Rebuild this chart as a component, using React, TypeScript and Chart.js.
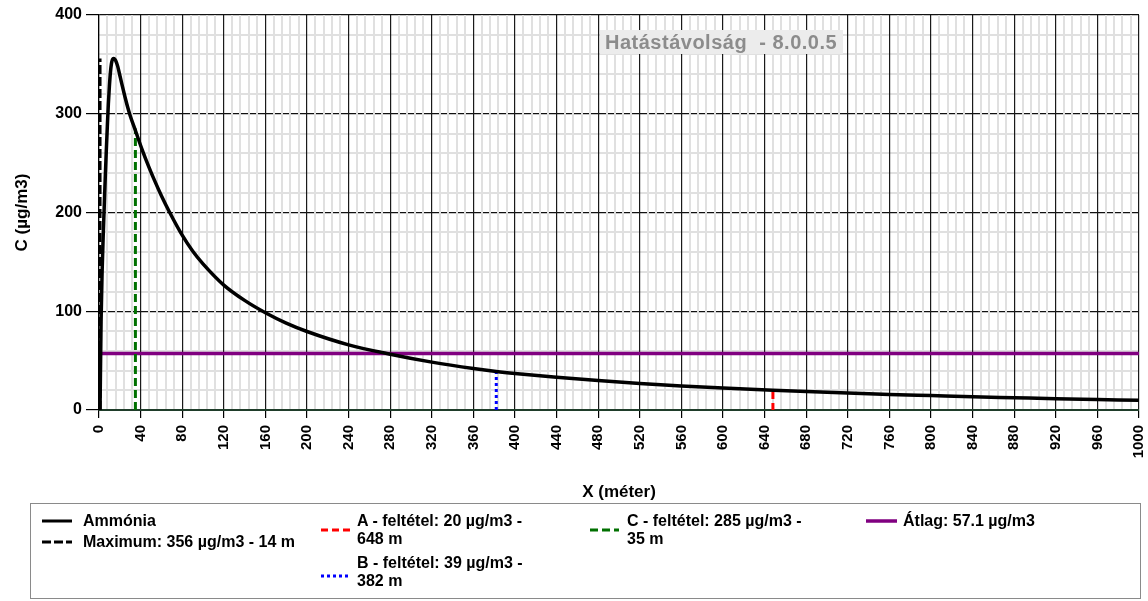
import React, { useEffect, useRef } from "react";
import { Chart, registerables } from "chart.js";

Chart.register(...registerables);

// ---- data ----
const distanceM = [1, 2, 3, 4, 5, 6, 7, 8, 9, 10, 11, 12, 13, 14, 15, 16, 18, 20, 22, 25, 28, 30, 35, 41, 48, 54, 60, 68, 80, 90, 100, 120, 140, 160, 180, 200, 240, 280, 320, 360, 382, 400, 440, 480, 520, 560, 600, 648, 700, 760, 800, 840, 880, 920, 960, 1000];
const ammoniaUgM3 = [0, 90, 140, 175, 205, 235, 262, 287, 310, 328, 342, 351, 355, 356, 355.5, 354, 348, 339, 330, 317, 305, 298, 283, 265, 246, 231, 217, 200, 177, 161, 148, 126.5, 111, 98.5, 88, 79.5, 66, 56.5, 48.5, 42, 39, 37, 33.2, 29.8, 26.8, 24.3, 22.2, 20, 17.9, 15.8, 14.6, 13.4, 12.4, 11.4, 10.6, 9.8];

const markerLabels = ["Maximum: 356 µg/m3 - 14 m", "A - feltétel: 20 µg/m3 - 648 m", "B - feltétel: 39 µg/m3 - 382 m", "C - feltétel: 285 µg/m3 - 35 m"];
const markerX = [1, 648, 382, 35];
const markerY = [356, 20, 39, 285];
const markerColors = ["#000000", "#ff0000", "#0000ff", "#007000"];
const markerDashes = [[9, 3], [7, 4], [3, 3], [8, 4]];

const averageLabel = "Átlag: 57.1 µg/m3";
const averageValue = 57.1;
const averageColor = "#800080";

const xRange = [0, 1000];
const yRange = [0, 400];
const xMinorStep = 8;
const xMajorStep = 40;
const yMinorStep = 20;
const yMajorStep = 100;

const FONT = "'Liberation Sans', Arial, sans-serif";

const titleBoxPlugin = {
  id: "titleBox",
  afterDraw(chart: any) {
    const ctx = chart.ctx;
    ctx.save();
    ctx.fillStyle = "#ececec";
    ctx.fillRect(600, 30, 243, 24);
    ctx.font = `bold 20px ${FONT}`;
    try { ctx.letterSpacing = "0.5px"; } catch (e) {}
    ctx.fillStyle = "#8c8c8c";
    ctx.textBaseline = "alphabetic";
    ctx.textAlign = "left";
    ctx.fillText("Hatástávolság  - 8.0.0.5", 605, 49);
    ctx.restore();
  },
};

function LegendSample({ x1, x2, y, color, dash, width }: any) {
  return (
    <svg style={{ position: "absolute", left: 0, top: 0, overflow: "visible" }} width={1} height={1}>
      <line x1={x1} x2={x2} y1={y} y2={y} stroke={color} strokeWidth={width} strokeDasharray={dash ? dash.join(",") : undefined} />
    </svg>
  );
}

export default function App() {
  const ref = useRef<HTMLCanvasElement | null>(null);

  useEffect(() => {
    if (!ref.current) return;
    const curve = distanceM.map((x, i) => ({ x, y: ammoniaUgM3[i] }));
    const markerSets = markerX.map((x, i) => ({
      label: markerLabels[i],
      data: [{ x, y: 0 }, { x, y: markerY[i] }],
      borderColor: markerColors[i],
      borderDash: markerDashes[i],
      borderWidth: 3,
      pointRadius: 0,
      borderCapStyle: "butt",
    }));
    const isMajorX = (v: number) => Math.abs(v % xMajorStep) < 1e-6;
    const isMajorY = (v: number) => Math.abs(v % yMajorStep) < 1e-6;

    const chart = new Chart(ref.current, {
      type: "line",
      data: {
        datasets: [
          {
            label: "Ammónia",
            data: curve,
            borderColor: "#000000",
            borderWidth: 3.5,
            pointRadius: 0,
            cubicInterpolationMode: "monotone",
          },
          ...markerSets,
          {
            label: averageLabel,
            data: [{ x: xRange[0], y: averageValue }, { x: xRange[1], y: averageValue }],
            borderColor: averageColor,
            borderWidth: 3.5,
            pointRadius: 0,
          },
        ] as any,
      },
      options: {
        responsive: false,
        animation: false,
        layout: { padding: { top: 15, right: 9, left: 0, bottom: 0 } },
        plugins: { legend: { display: false }, tooltip: { enabled: false } },
        scales: {
          x: {
            type: "linear",
            min: xRange[0],
            max: xRange[1],
            afterFit: (s: any) => { s.height = 100; s.paddingLeft = 0; s.paddingRight = 0; },
            ticks: {
              stepSize: xMinorStep,
              autoSkip: false,
              maxRotation: 90,
              minRotation: 90,
              padding: 7,
              color: "#000",
              font: { family: FONT, size: 15, weight: "bold" },
              callback: (v: any) => (isMajorX(Number(v)) ? String(v) : ""),
            },
            grid: {
              z: -1,
              color: (c: any) => (c.tick && isMajorX(c.tick.value) ? "#1a1a1a" : "#e0e0e0"),
              lineWidth: (c: any) => (c.tick && isMajorX(c.tick.value) ? 1.2 : 2),
              tickLength: 8,
              tickColor: (c: any) => (c.tick && isMajorX(c.tick.value) ? "#000" : "rgba(0,0,0,0)"),
              tickWidth: 1.2,
            },
            border: { display: true, color: "#1f3d2a", width: 2 },
            title: {
              display: true,
              text: "X (méter)",
              color: "#000",
              font: { family: FONT, size: 17, weight: "bold" },
              padding: { top: 0, bottom: 7 },
            },
          },
          y: {
            type: "linear",
            min: yRange[0],
            max: yRange[1],
            afterFit: (s: any) => { s.width = 99; },
            ticks: {
              stepSize: yMinorStep,
              autoSkip: false,
              padding: 4,
              color: "#000",
              font: { family: FONT, size: 16, weight: "bold" },
              callback: (v: any) => (isMajorY(Number(v)) ? String(v) : ""),
            },
            grid: {
              z: -2,
              color: (c: any) => (c.tick && c.tick.value === 0 ? "#1f3d2a" : c.tick && isMajorY(c.tick.value) ? "#111" : "#e0e0e0"),
              lineWidth: (c: any) => (c.tick && isMajorY(c.tick.value) ? 1.2 : 2),
              tickLength: 13,
              tickColor: (c: any) => (c.tick && isMajorY(c.tick.value) ? "#000" : "rgba(0,0,0,0)"),
              tickWidth: 1.2,
            },
            border: { display: true, color: "#000", width: 1.2 },
            title: {
              display: true,
              text: "C (µg/m3)",
              color: "#000",
              font: { family: FONT, size: 17, weight: "bold" },
              padding: { top: 12, bottom: 0 },
            },
          },
        },
      },
      plugins: [titleBoxPlugin],
    } as any);
    return () => chart.destroy();
  }, []);

  const textStyle: React.CSSProperties = {
    position: "absolute",
    fontFamily: FONT,
    fontWeight: "bold",
    fontSize: 16,
    lineHeight: "18px",
    color: "#000",
    whiteSpace: "nowrap",
  };

  return (
    <div style={{ position: "fixed", left: 0, top: 0, width: 1148, height: 601, background: "#fff", overflow: "hidden" }}>
      <canvas ref={ref} width={1148} height={510} style={{ position: "absolute", left: 0, top: 0, width: 1148, height: 510 }} />
      <div style={{ position: "absolute", left: 30, top: 503, width: 1111, height: 96, border: "1px solid #8a8a8a", boxSizing: "border-box" }} />
      <LegendSample x1={42} x2={72} y={521} color="#000" width={3} />
      <div style={{ ...textStyle, left: 83, top: 512 }}>Ammónia</div>
      <LegendSample x1={42} x2={72} y={542} color={markerColors[0]} dash={markerDashes[0]} width={3} />
      <div style={{ ...textStyle, left: 83, top: 533 }}>{markerLabels[0]}</div>

      <LegendSample x1={321} x2={350} y={530} color={markerColors[1]} dash={markerDashes[1]} width={3} />
      <div style={{ ...textStyle, left: 357, top: 512 }}>A - feltétel: 20 µg/m3 -<br />648 m</div>
      <LegendSample x1={321} x2={350} y={576} color={markerColors[2]} dash={markerDashes[2]} width={3} />
      <div style={{ ...textStyle, left: 357, top: 554 }}>B - feltétel: 39 µg/m3 -<br />382 m</div>

      <LegendSample x1={590} x2={619} y={530} color={markerColors[3]} dash={markerDashes[3]} width={3} />
      <div style={{ ...textStyle, left: 627, top: 512 }}>C - feltétel: 285 µg/m3 -<br />35 m</div>

      <LegendSample x1={866} x2={897} y={521} color={averageColor} width={3.5} />
      <div style={{ ...textStyle, left: 903, top: 512 }}>{averageLabel}</div>
    </div>
  );
}
